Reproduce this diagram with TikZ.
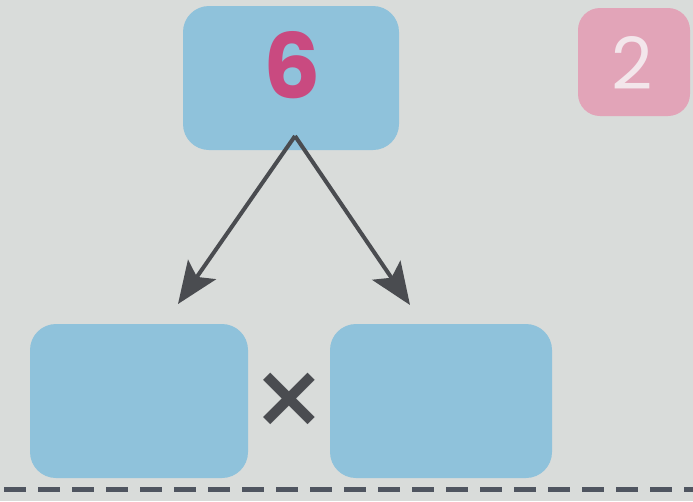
\documentclass[tikz,border=0pt]{standalone}
\usepackage{fontspec}
\newfontfamily\pop{Poppins}
\newfontfamily\dejavu{DejaVu Sans}
\usetikzlibrary{arrows.meta}
\definecolor{bg}{HTML}{D9DCDA}
\definecolor{boxblue}{HTML}{8FC2DB}
\definecolor{boxpink}{HTML}{E2A4B8}
\definecolor{numpink}{HTML}{C94A80}
\definecolor{lightnum}{HTML}{F3E6EB}
\definecolor{arrowgray}{HTML}{4A4C50}
\definecolor{dashgray}{HTML}{4F5560}
\tikzset{
  bluebox/.style={fill=boxblue, draw=none, rounded corners=26pt, inner sep=0pt},
  pinkbox/.style={fill=boxpink, draw=none, rounded corners=22pt, inner sep=0pt},
  splitarrow/.style={draw=arrowgray, line width=4pt, -{Stealth[length=42pt,width=34pt,inset=9pt]}},
}
\begin{document}
\begin{tikzpicture}[x=1pt,y=-1pt]
  \fill[bg] (0,0) rectangle (693,501);
  \useasboundingbox (0,0) rectangle (693,501);

  \node[bluebox, minimum width=216pt, minimum height=144pt] (top) at (291,78) {};
  \node[text=numpink, font=\pop\bfseries\fontsize{90}{90}\selectfont, inner sep=0pt] (six) at (292,65) {6};

  \node[pinkbox, minimum width=112pt, minimum height=108pt] (tag) at (634,62) {};
  \node[text=lightnum, font=\pop\fontsize{72}{72}\selectfont, inner sep=0pt] (two) at (632,63) {2};

  \node[bluebox, minimum width=218pt, minimum height=154pt] (left) at (139,401) {};
  \node[bluebox, minimum width=222pt, minimum height=154pt] (right) at (441,401) {};
  \node[text=arrowgray, font=\dejavu\bfseries\fontsize{88}{88}\selectfont, inner sep=0pt] (times) at (289,400) {×};

  \coordinate (apex) at (295,136);
  \coordinate (ltip) at (178,304);
  \coordinate (rtip) at (410,305);
  \draw[splitarrow] (apex) -- (ltip);
  \draw[splitarrow] (apex) -- (rtip);

  \coordinate (dashl) at (4,489);
  \coordinate (dashr) at (693,489);
  \draw[dashgray, line width=5pt, dash pattern=on 22pt off 12pt] (dashl) -- (dashr);
\end{tikzpicture}
\end{document}
